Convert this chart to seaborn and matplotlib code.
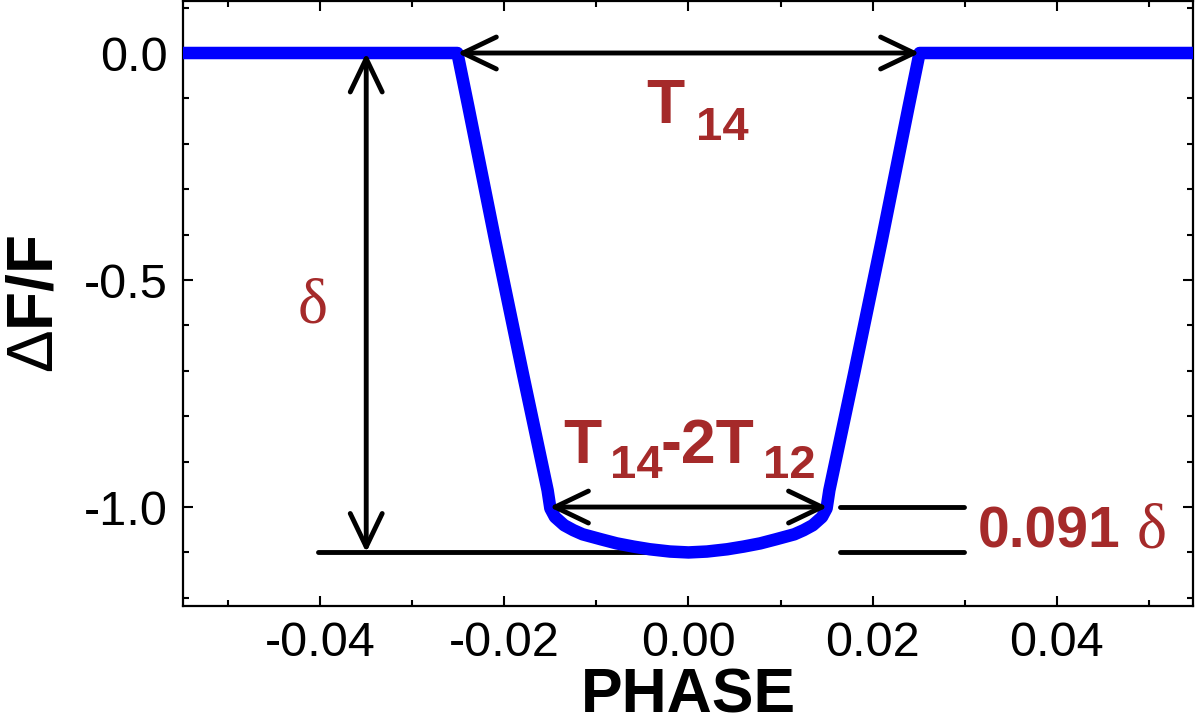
import matplotlib
matplotlib.use("Agg")
import matplotlib.pyplot as plt
import seaborn as sns
import pandas as pd
from matplotlib.ticker import MultipleLocator, FixedLocator

# ---- data ----
phase = [-0.060, -0.0251, -0.0239, -0.0210, -0.0180, -0.0153, -0.0150, -0.0145,
         -0.0135, -0.0125, -0.0115, -0.0095, -0.0078, -0.0060, -0.0042, -0.0020,
         0.0,
         0.0020, 0.0042, 0.0060, 0.0078, 0.0095, 0.0115, 0.0125, 0.0135,
         0.0145, 0.0150, 0.0153, 0.0180, 0.0210, 0.0239, 0.0251, 0.060]
dflux = [0.0, 0.0, -0.119, -0.412, -0.705, -0.963, -1.003, -1.022,
         -1.040, -1.051, -1.060, -1.071, -1.080, -1.087, -1.093, -1.098,
         -1.100,
         -1.098, -1.093, -1.087, -1.080, -1.071, -1.060, -1.051, -1.040,
         -1.022, -1.003, -0.963, -0.705, -0.412, -0.119, 0.0, 0.0]
x_ticks = [-0.04, -0.02, 0.00, 0.02, 0.04]
x_ticklabels = ["-0.04", "-0.02", "0.00", "0.02", "0.04"]
y_ticks = [0.0, -0.5, -1.0]
y_ticklabels = ["0.0", "-0.5", "-1.0"]

t14_half = 0.0251
t23_half = 0.0151
depth = -1.0
depth_center = -1.1
delta_x = -0.035

sns.set_theme(style="ticks")
plt.rcParams["font.family"] = ["Liberation Sans", "DejaVu Sans"]
plt.rcParams["mathtext.fontset"] = "custom"
plt.rcParams["mathtext.rm"] = "Liberation Sans"
plt.rcParams["mathtext.it"] = "Liberation Sans:italic"
plt.rcParams["mathtext.bf"] = "Liberation Sans:bold"
plt.rcParams["text.color"] = "black"
plt.rcParams["axes.labelcolor"] = "black"
plt.rcParams["xtick.color"] = "black"
plt.rcParams["ytick.color"] = "black"

fig = plt.figure(figsize=(12, 7.27), dpi=100)
ax = fig.add_axes([0.1525, 0.1664, 0.8417, 0.8322])

df = pd.DataFrame({"phase": phase, "dflux": dflux})
sns.lineplot(data=df, x="phase", y="dflux", ax=ax, color="#0000ff", lw=9,
             sort=False, estimator=None, solid_joinstyle="round", zorder=3)

ax.set_xlim(-0.0549, 0.0548)
ax.set_ylim(-1.218, 0.1145)

ax.xaxis.set_major_locator(FixedLocator(x_ticks))
ax.set_xticklabels(x_ticklabels)
ax.xaxis.set_minor_locator(MultipleLocator(0.01))
ax.yaxis.set_major_locator(FixedLocator(y_ticks))
ax.set_yticklabels(y_ticklabels)
ax.yaxis.set_minor_locator(MultipleLocator(0.1))

ax.tick_params(which="both", direction="in", top=True, right=True, color="black",
               labelcolor="black", width=1.5)
ax.tick_params(which="major", length=7, labelsize=35, pad=11)
ax.tick_params(which="minor", length=4)
for s in ax.spines.values():
    s.set_linewidth(1.6)
    s.set_color("black")

ax.set_xlabel("PHASE", fontsize=45, fontweight="bold", color="black")
ax.xaxis.label.set_va("baseline")
ax.xaxis.set_label_coords(0.5, -0.176)
ax.set_ylabel(r"$\Delta$F/F", fontsize=46, fontweight="bold", labelpad=13, color="black")

arrow_kw = dict(arrowstyle="<->,head_length=2.4,head_width=1.15", lw=3.5,
                color="black", shrinkA=0, shrinkB=0, mutation_scale=10)
ax.annotate("", xy=(t14_half, 0.0), xytext=(-t14_half, 0.0), arrowprops=arrow_kw, zorder=4)
ax.annotate("", xy=(t23_half, depth), xytext=(-t23_half, depth), arrowprops=arrow_kw, zorder=4)
ax.annotate("", xy=(delta_x, depth_center), xytext=(delta_x, 0.0), arrowprops=arrow_kw, zorder=4)

ax.plot([-0.0402, 0.0], [depth_center, depth_center], color="black", lw=3.5, zorder=2)
ax.plot([0.0165, 0.0299], [depth, depth], color="black", lw=3.5, zorder=2)
ax.plot([0.0165, 0.0299], [depth_center, depth_center], color="black", lw=3.5, zorder=2)

red = "#a52a2a"
# T14 label
ax.text(-0.0046, -0.154, "T", color=red, fontsize=45, fontweight="bold", ha="left", va="baseline")
ax.text(0.0008, -0.192, "14", color=red, fontsize=34, fontweight="bold", ha="left", va="baseline")
# T14-2T12 label
ax.text(-0.01362, -0.903, "T", color=red, fontsize=45, fontweight="bold", ha="left", va="baseline")
ax.text(-0.00852, -0.936, "14", color=red, fontsize=34, fontweight="bold", ha="left", va="baseline")
ax.text(-0.0030, -0.903, "-2T", color=red, fontsize=45, fontweight="bold", ha="left", va="baseline")
ax.text(0.00809, -0.936, "12", color=red, fontsize=34, fontweight="bold", ha="left", va="baseline")
# delta labels
ax.text(-0.0425, -0.5925, "δ", color=red, fontsize=46, family=["Liberation Serif", "DejaVu Serif"],
        ha="left", va="baseline")
ax.text(0.0314, -1.088, "0.091", color=red, fontsize=41, fontweight="bold", ha="left", va="baseline")
ax.text(0.0487, -1.088, "δ", color=red, fontsize=46, family=["Liberation Serif", "DejaVu Serif"],
        ha="left", va="baseline")

fig.savefig("out.png", dpi=100)
